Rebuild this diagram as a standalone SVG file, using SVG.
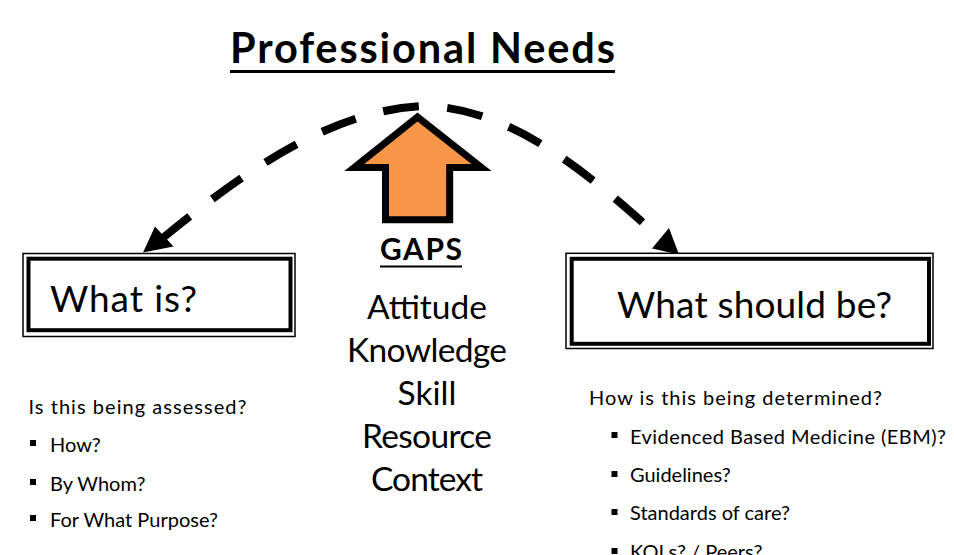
<svg xmlns="http://www.w3.org/2000/svg" width="954" height="555" viewBox="0 0 954 555">
  <defs>
    <style>
      text { font-family: Lato, "Liberation Sans", sans-serif; fill: #000; }
      .title { font-size: 41.5px; font-weight: bold; }
      .gaps { font-size: 30px; font-weight: bold; }
      .boxlabel { font-size: 37px; }
      .gaplist { font-size: 33.5px; text-anchor: middle; }
      .small { font-size: 20px; }
      .uline { stroke: #000; fill: none; }
      .outer { fill: #fff; stroke: #000; stroke-width: 1.5; }
      .inner { fill: none; stroke: #000; stroke-width: 4; }
      .bullet { fill: #000; }
      .dash { fill: none; stroke: #000; stroke-width: 8; stroke-dasharray: 36 28.5; stroke-dashoffset: 3; }
      .head { fill: #000; stroke: none; }
    </style>
  </defs>
  <rect width="954" height="555" fill="#fff"/>

  <g id="title">
    <text class="title" x="230" y="63" textLength="385">Professional Needs</text>
    <line class="uline" x1="230" y1="71.5" x2="615" y2="71.5" stroke-width="3"/>
  </g>

  <g id="connectors">
    <path class="dash" d="M164,237 C240,175 330,109 425,106 C510,108 585,170 660,238"/>
    <polygon class="head" points="143,252.5 155,226.5 173.5,246.5"/>
    <polygon class="head" points="679,254.5 652,248.5 669,228"/>
  </g>

  <g id="gaps-arrow">
    <polygon points="417.5,117 481.5,167.5 449.7,167.5 449.7,219.7 385.5,219.7 385.5,167.5 354.3,167.5" fill="#F79646" stroke="#000" stroke-width="7" stroke-linejoin="miter"/>
  </g>

  <g id="gaps">
    <text class="gaps" x="380" y="260" textLength="82">GAPS</text>
    <line class="uline" x1="380" y1="266.5" x2="462" y2="266.5" stroke-width="2"/>
    <text class="gaplist" x="427" y="319" textLength="120">Attitude</text>
    <text class="gaplist" x="427" y="362" textLength="160">Knowledge</text>
    <text class="gaplist" x="427" y="405">Skill</text>
    <text class="gaplist" x="427" y="448" textLength="130">Resource</text>
    <text class="gaplist" x="427" y="491" textLength="112">Context</text>
  </g>

  <g id="what-is">
    <rect class="outer" x="23" y="253.5" width="272" height="83"/>
    <rect class="inner" x="28.5" y="258.7" width="262" height="71.5"/>
    <text class="boxlabel" x="50" y="312" textLength="147">What is?</text>
  </g>

  <g id="what-should-be">
    <rect class="outer" x="566" y="253.3" width="367" height="95.2"/>
    <rect class="inner" x="571.7" y="258.8" width="357.3" height="85"/>
    <text class="boxlabel" x="617" y="318" textLength="275">What should be?</text>
  </g>

  <g id="left-list">
    <text class="small" x="28.5" y="413.5" textLength="218">Is this being assessed?</text>
    <rect class="bullet" x="30" y="440" width="6" height="6"/>
    <text class="small" x="50" y="452">How?</text>
    <rect class="bullet" x="30" y="479" width="6" height="6"/>
    <text class="small" x="50" y="490.5">By Whom?</text>
    <rect class="bullet" x="30" y="515" width="6" height="6"/>
    <text class="small" x="50" y="527">For What Purpose?</text>
  </g>

  <g id="right-list">
    <text class="small" x="589" y="405" textLength="293">How is this being determined?</text>
    <rect class="bullet" x="611.5" y="432" width="6" height="6"/>
    <text class="small" x="630" y="443.5" textLength="316">Evidenced Based Medicine (EBM)?</text>
    <rect class="bullet" x="611.5" y="471" width="6" height="6"/>
    <text class="small" x="630" y="482">Guidelines?</text>
    <rect class="bullet" x="611.5" y="509" width="6" height="6"/>
    <text class="small" x="630" y="520">Standards of care?</text>
    <rect class="bullet" x="611.5" y="548" width="6" height="6"/>
    <text class="small" x="630" y="559">KOLs? / Peers?</text>
  </g>
</svg>
